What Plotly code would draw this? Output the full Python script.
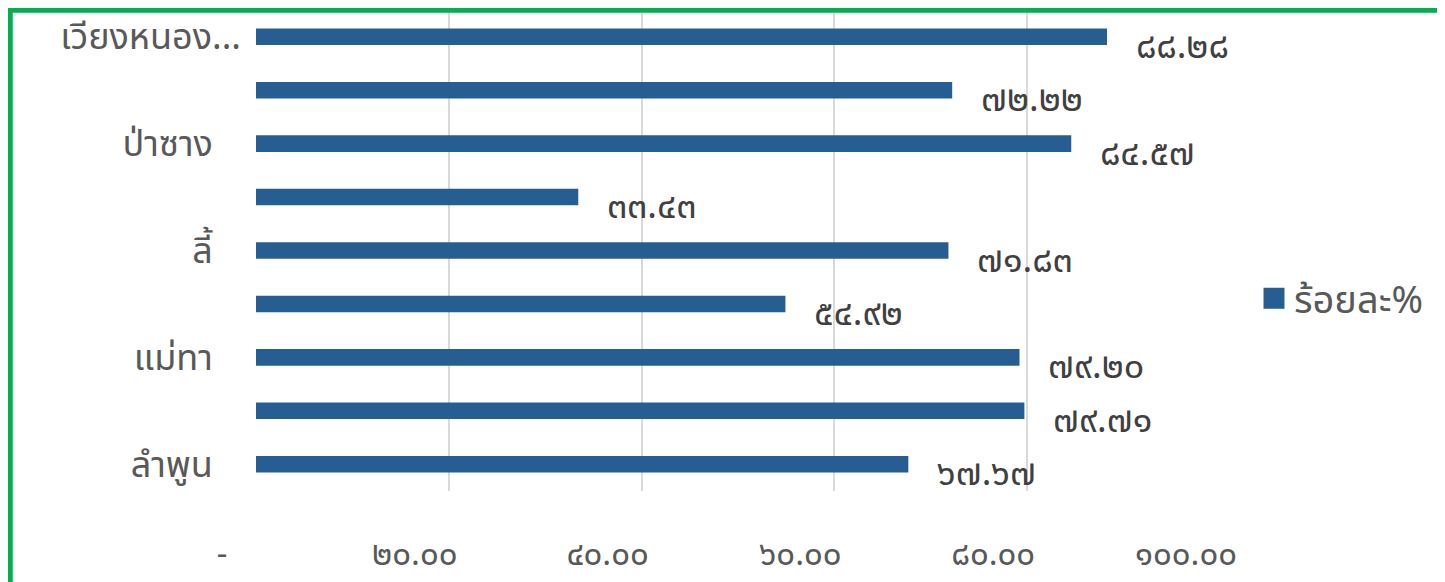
import plotly.graph_objects as go

# Data (bottom to top)
categories = ["ลำพูน", "เมืองลำพูน", "แม่ทา", "บ้านโฮ่ง", "ลี้",
              "ทุ่งหัวช้าง", "ป่าซาง", "บ้านธิ", "เวียงหนองล่อง"]
values = [67.67, 79.71, 79.20, 54.92, 71.83, 33.43, 84.57, 72.22, 88.28]
shown_labels = {"ลำพูน": "ลำพูน", "แม่ทา": "แม่ทา", "ลี้": "ลี้",
                "ป่าซาง": "ป่าซาง", "เวียงหนองล่อง": "เวียงหนอง..."}
x_ticks = [0, 20, 40, 60, 80, 100]
series_name = "ร้อยละ%"

THAI = str.maketrans("0123456789", "๐๑๒๓๔๕๖๗๘๙")

def thai_num(v):
    return f"{v:.2f}".translate(THAI)

x_ticktext = ["-" if v == 0 else thai_num(v) for v in x_ticks]

BAR = "#265E91"
FONT = "Noto Sans Thai, Leelawadee UI, Tahoma, sans-serif"
NB = "\u00a0"

# plot area in figure pixels (page has an 8px body margin)
L, R, T, B = 248, 1212, 2, 483
W, H = 1445, 582

fig = go.Figure()
fig.add_trace(go.Bar(
    x=values, y=categories, orientation="h",
    marker=dict(color=BAR, line=dict(width=0)),
    width=0.31, showlegend=False, hoverinfo="x+y",
))
# legend entry
fig.add_trace(go.Scatter(
    x=[None], y=[None], mode="markers", name=series_name,
    marker=dict(symbol="square", size=16, color=BAR, line=dict(color=BAR, width=5)),
))

for c, v in zip(categories, values):
    fig.add_annotation(
        x=v, y=c, text=thai_num(v), showarrow=False,
        xanchor="left", yanchor="middle", xshift=27, yshift=-10,
        font=dict(family=FONT, size=36, color="#404040"),
    )

tickvals = [c for c in categories if c in shown_labels]
ticktext = []
for c in tickvals:
    t = shown_labels[c]
    if not t.endswith("..."):
        t = t + NB * 3
    ticktext.append(t)

fig.update_layout(
    width=W, height=H,
    margin=dict(l=L, r=W - R, t=T, b=H - B),
    paper_bgcolor="white", plot_bgcolor="white",
    font=dict(family=FONT, color="#595959"),
    xaxis=dict(
        range=[0, 100], tickmode="array", tickvals=x_ticks, ticktext=x_ticktext,
        showgrid=True, gridcolor="#D9D9D9", gridwidth=2,
        zeroline=False, showline=False,
        tickfont=dict(family=FONT, size=33, color="#595959"),
        ticklabelstandoff=40, ticklabelshift=-34,
        fixedrange=True,
    ),
    yaxis=dict(
        type="category", categoryorder="array", categoryarray=categories,
        range=[-0.5, 8.5],
        tickmode="array", tickvals=tickvals, ticktext=ticktext,
        showgrid=False, zeroline=False, showline=False,
        tickfont=dict(family=FONT, size=36, color="#595959"),
        ticklabelstandoff=14,
        fixedrange=True,
    ),
    legend=dict(
        x=(1246 - L) / (R - L), y=0.40, xanchor="left", yanchor="middle",
        font=dict(family=FONT, size=38, color="#595959"),
        bgcolor="rgba(0,0,0,0)",
    ),
    showlegend=True,
)

# green chart-area border (extends past right/bottom edge of window)
fig.add_shape(
    type="rect", xref="paper", yref="paper",
    x0=(2 - L) / (R - L), x1=1.4, y0=-0.4, y1=(B - 2) / (B - T),
    line=dict(color="#00B050", width=5.5), fillcolor="rgba(0,0,0,0)", layer="above",
)

fig.write_html("out.html")
